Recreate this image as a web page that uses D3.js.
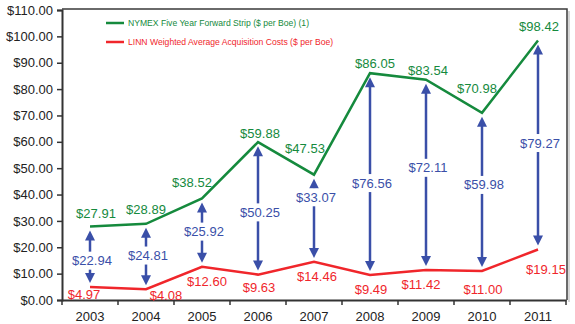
<!DOCTYPE html>
<html>
  <head>
    <meta charset="utf-8">
    <title>NYMEX strip vs LINN acquisition costs</title>
    <script src="https://cdn.jsdelivr.net/npm/d3@7"></script>
    <style>
    html, body {
        margin: 0;
        padding: 0;
        background: #fff;
    }
    #vis text {
        font-family: 'Liberation Sans', Arial, sans-serif;
    }
    </style>
  </head>
  <body>
    <div id="vis"></div>
    <script>

      var years = ['2003', '2004', '2005', '2006', '2007', '2008', '2009', '2010', '2011'];
      var nymex = [27.91, 28.89, 38.52, 59.88, 47.53, 86.05, 83.54, 70.98, 98.42];
      var linn = [4.97, 4.08, 12.60, 9.63, 14.46, 9.49, 11.42, 11.00, 19.15];
      var spread = [22.94, 24.81, 25.92, 50.25, 33.07, 76.56, 72.11, 59.98, 79.27];
      var yTicks = [0, 10, 20, 30, 40, 50, 60, 70, 80, 90, 100, 110];
      var legendNames = ['NYMEX Five Year Forward Strip ($ per Boe) (1)',
                         'LINN Weighted Average Acquisition Costs ($ per Boe)'];

      var green = '#158a3d', red = '#f0262b', blue = '#3a4fa8';

      // hand placement of the value labels, like in the original
      var greenNudge = [[6, -13], [0, -14], [-10, -16], [2, -9], [-9, -26], [5, -10], [2, -9], [-5, -24], [1, -14]];
      var redNudge = [[-6, 8], [20, 6], [5, 15], [1, 13], [3, 15], [1, 15], [-5, 15], [1, 18], [8, 20]];
      var blueNudge = [4, -1, -1, 4, -21, 9, -7, -7, -2];

      var width = 575, height = 324;
      var pLeft = 62, pRight = 566, pTop = 10, pBottom = 300;

      var svg = d3.select('#vis').append('svg')
          .attr('width', width)
          .attr('height', height);

      var x = d3.scaleBand().domain(years).range([pLeft, pRight]);
      var y = d3.scaleLinear().domain([0, 110]).range([pBottom, pTop]);
      var cx = function(i) { return x(years[i]) + x.bandwidth() / 2; };

      // frame (top + right)
      svg.append('path')
          .attr('d', 'M' + pLeft + ',' + (pTop - 1) + 'H' + (pRight + 1) + 'V' + pBottom)
          .attr('fill', 'none')
          .attr('stroke', '#3a3a3a')
          .attr('stroke-width', 1.5);
      svg.append('line')
          .attr('x1', pRight + 3).attr('x2', pRight + 3)
          .attr('y1', pTop + 1).attr('y2', pBottom + 2)
          .attr('stroke', '#c8c8c8').attr('stroke-width', 1.5);

      // y axis
      var yAxis = svg.append('g')
          .attr('transform', 'translate(' + pLeft + ',0)')
          .call(d3.axisLeft(y).tickValues(yTicks).tickSize(5).tickPadding(4)
                .tickFormat(function(d) { return '$' + d3.format('.2f')(d); }));
      yAxis.select('.domain').attr('stroke', '#333').attr('stroke-width', 2);
      yAxis.selectAll('.tick line').attr('stroke', '#333').attr('stroke-width', 1.5);
      yAxis.selectAll('.tick text')
          .attr('font-size', 13)
          .attr('fill', '#222')
          .style('font-family', "'Liberation Sans', Arial, sans-serif");

      // x axis, ticks sit between the years
      var xAxis = svg.append('g')
          .attr('transform', 'translate(0,' + pBottom + ')')
          .call(d3.axisBottom(x).tickSize(0).tickPadding(12));
      xAxis.select('.domain').attr('stroke', '#333').attr('stroke-width', 2);
      xAxis.selectAll('.tick text')
          .attr('font-size', 13)
          .attr('fill', '#222')
          .style('font-family', "'Liberation Sans', Arial, sans-serif");
      xAxis.selectAll('line.sep')
          .data(years.concat(['end']))
          .enter()
          .append('line')
          .attr('class', 'sep')
          .attr('x1', function(d, i) { return pLeft + i * x.bandwidth(); })
          .attr('x2', function(d, i) { return pLeft + i * x.bandwidth(); })
          .attr('y1', 0).attr('y2', 5)
          .attr('stroke', '#333').attr('stroke-width', 1.5);

      // lines
      var line = d3.line()
          .x(function(d, i) { return cx(i); })
          .y(function(d) { return y(d); });

      svg.append('path').datum(linn)
          .attr('d', line)
          .attr('fill', 'none').attr('stroke', red).attr('stroke-width', 2.5);
      svg.append('path').datum(nymex)
          .attr('d', line)
          .attr('fill', 'none').attr('stroke', green).attr('stroke-width', 2.5);

      // double arrows
      var gap = 4, headW = 5, headH = 10;
      var arrows = svg.selectAll('g.arrow')
          .data(spread)
          .enter()
          .append('g')
          .attr('class', 'arrow');

      arrows.append('line')
          .attr('x1', function(d, i) { return cx(i); })
          .attr('x2', function(d, i) { return cx(i); })
          .attr('y1', function(d, i) { return y(nymex[i]) + gap + headH - 1; })
          .attr('y2', function(d, i) { return y(linn[i]) - gap - headH + 1; })
          .attr('stroke', blue).attr('stroke-width', 2.5);

      arrows.append('path')
          .attr('d', function(d, i) {
            var ax = cx(i), t = y(nymex[i]) + gap;
            return 'M' + ax + ',' + t + 'L' + (ax + headW) + ',' + (t + headH) + 'L' + (ax - headW) + ',' + (t + headH) + 'Z';
          })
          .attr('fill', blue);
      arrows.append('path')
          .attr('d', function(d, i) {
            var ax = cx(i), t = y(linn[i]) - gap;
            return 'M' + ax + ',' + t + 'L' + (ax + headW) + ',' + (t - headH) + 'L' + (ax - headW) + ',' + (t - headH) + 'Z';
          })
          .attr('fill', blue);

      var midY = function(i) { return (y(nymex[i]) + y(linn[i])) / 2 + blueNudge[i]; };
      arrows.append('rect')
          .attr('x', function(d, i) { return cx(i) - 22; })
          .attr('y', function(d, i) { return midY(i) - 9; })
          .attr('width', 44).attr('height', 18)
          .attr('fill', '#fff');
      arrows.append('text')
          .attr('x', function(d, i) { return cx(i) + 2; })
          .attr('y', function(d, i) { return midY(i) + 4.5; })
          .attr('text-anchor', 'middle')
          .attr('font-size', 13)
          .attr('fill', blue)
          .text(function(d) { return '$' + d3.format('.2f')(d); });

      // value labels
      svg.selectAll('text.gval')
          .data(nymex)
          .enter()
          .append('text')
          .attr('class', 'gval')
          .attr('x', function(d, i) { return cx(i) + greenNudge[i][0]; })
          .attr('y', function(d, i) { return y(d) + greenNudge[i][1] + 4.5; })
          .attr('text-anchor', 'middle')
          .attr('font-size', 13)
          .attr('fill', green)
          .text(function(d) { return '$' + d3.format('.2f')(d); });

      svg.selectAll('text.rval')
          .data(linn)
          .enter()
          .append('text')
          .attr('class', 'rval')
          .attr('x', function(d, i) { return cx(i) + redNudge[i][0]; })
          .attr('y', function(d, i) { return y(d) + redNudge[i][1] + 4.5; })
          .attr('text-anchor', 'middle')
          .attr('font-size', 13)
          .attr('fill', red)
          .text(function(d) { return '$' + d3.format('.2f')(d); });

      // legend
      var legend = svg.selectAll('g.legend')
          .data(legendNames)
          .enter()
          .append('g')
          .attr('class', 'legend')
          .attr('transform', function(d, i) { return 'translate(106,' + (23 + i * 19) + ')'; });
      legend.append('line')
          .attr('x1', 0).attr('x2', 18)
          .attr('stroke', function(d, i) { return i ? red : green; })
          .attr('stroke-width', 2.5);
      legend.append('text')
          .attr('x', 22).attr('y', 3)
          .attr('font-size', 8.6)
          .attr('fill', function(d, i) { return i ? red : green; })
          .text(function(d) { return d; });

    </script>
  </body>
</html>
